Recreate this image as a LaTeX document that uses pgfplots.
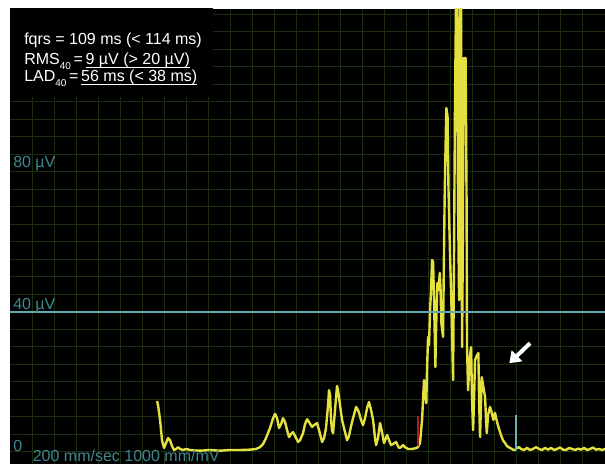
\documentclass[border=0pt]{standalone}
\usepackage{pgfplots}
\pgfplotsset{compat=1.18}
\usepackage{fontspec}
\setmainfont{Liberation Sans}
\usetikzlibrary{arrows.meta}

\definecolor{gridgreen}{RGB}{27,45,17}
\definecolor{trace}{RGB}{228,224,62}
\definecolor{tealline}{RGB}{100,170,178}
\definecolor{tealtext}{RGB}{62,136,142}
\definecolor{qrson}{RGB}{165,34,28}
\definecolor{qrsoff}{RGB}{100,180,180}

\newcommand{\sub}[1]{\raisebox{-3.5pt}{\fontsize{7.5}{8}\selectfont #1}}
\newcommand{\lab}{\fontsize{12}{14}\selectfont}
% underline sitting close to the baseline
\newcommand{\ul}[1]{\setbox0\hbox{#1}\rlap{\rule[-2.3pt]{\wd0}{0.7pt}}\box0}

\begin{document}
\begin{tikzpicture}
\useasboundingbox (0,0) rectangle (453.75pt,348pt);
\begin{axis}[
  at={(7.5pt,0pt)}, anchor=south west,
  width=446.25pt, height=341.25pt, scale only axis,
  xmin=-25, xmax=650.2, ymin=-3.5, ymax=126.5,
  xtick={0,25,...,625}, ytick={0,5,...,125},
  xticklabels={}, yticklabels={},
  major tick length=0pt,
  grid=major, grid style={gridgreen, line width=0.75pt},
  axis line style={draw=none},
  axis background/.style={fill=black},
]
% box behind the header text
\fill[black] (axis cs:-25,127) rectangle (axis cs:205.4,101.3);

% signal-averaged QRS, time in ms, amplitude in uV
\addplot[trace, line width=1.8pt, line join=round] coordinates {
(141.9,14.5)(143.0,13.3)(145.3,9.1)(147.5,3.3)(149.8,1.1)(152.1,2.5)(154.3,3.9)
(156.6,3.3)(158.9,1.6)(161.1,0.5)(163.4,0.8)(165.7,1.3)(168.0,0.8)(171.4,0.5)
(174.8,0.8)(179.3,0.5)(190.6,0.3)(202.0,0.5)(213.3,0.3)(224.7,0.5)(236.0,0.5)
(247.4,0.6)(254.2,0.8)(258.7,1.3)(262.1,2.2)(265.5,3.9)(270.1,6.8)(273.5,9.6)
(275.8,10.8)(278.0,9.6)(280.3,6.8)(282.6,7.9)(284.8,9.6)(287.1,8.5)(289.4,6.2)
(291.6,4.2)(293.9,5.1)(296.2,5.6)(298.5,4.5)(301.9,2.8)(304.1,3.3)(307.5,5.3)
(309.8,7.9)(312.1,9.3)(314.3,8.5)(317.7,7.1)(320.0,7.6)(323.4,8.2)(325.7,6.2)
(329.1,2.8)(331.4,3.9)(333.6,6.8)(335.9,13.3)(337.0,17.6)(338.2,16.2)(339.3,9.1)
(340.4,6.2)(341.6,5.3)(343.8,11.9)(346.1,18.8)(347.2,17.6)(349.5,13.3)(351.8,9.1)
(355.2,5.6)(357.5,3.3)(359.7,4.5)(362.0,7.3)(364.3,9.6)(367.7,12.8)(369.9,11.9)
(371.1,11.1)(373.3,9.1)(375.6,7.6)(377.9,9.6)(380.2,12.5)(382.4,14.2)(384.7,11.9)
(387.0,9.1)(389.2,3.9)(390.4,1.9)(392.6,3.9)(394.9,8.2)(397.2,5.6)(399.4,2.5)
(401.7,3.9)(402.9,4.8)(405.1,3.3)(407.4,1.9)(409.7,2.2)(413.1,2.8)(415.3,1.6)
(416.5,1.1)(418.7,1.3)(421.0,1.9)(423.3,1.3)(426.7,0.8)(431.2,0.8)(436.9,1.1)
(439.2,1.9)(440.3,2.5)(442.6,9.1)(444.8,20.5)(446.0,16.2)(447.4,13.9)(448.2,23.3)
(449.4,32.8)(450.5,30.5)(451.7,40.5)(452.8,46.2)(453.9,54.8)(455.1,54.2)(456.2,43.3)
(457.7,24.2)(458.5,34.8)(459.9,48.2)(461.3,46.2)(462.7,51.1)(463.6,46.2)(464.5,36.8)
(466.4,32.8)(467.5,57.6)(468.3,73.9)(469.2,86.2)(470.1,98.2)(471.5,95.9)(472.6,74.8)
(474.4,55.6)(475.8,43.3)(477.8,20.5)(478.9,57.6)(480.0,100.5)(481.2,130)(482.3,130)
(483.4,71.9)(484.6,43.3)(485.1,100.5)(485.7,130)(486.8,130)(487.4,71.9)(488.0,29.9)
(488.8,57.6)(489.7,112.5)(492.0,112.5)(493.1,71.9)(493.6,30.5)(494.8,17.6)(496.5,26.2)
(498.2,29.9)(499.3,14.8)(500.5,6.2)(501.6,14.8)(502.7,26.2)(505.0,27.6)(506.5,28.2)
(507.3,14.8)(508.4,4.2)(509.6,14.8)(510.3,21.3)(511.8,19.1)(514.1,15.6)(515.2,9.1)
(516.0,5.3)(517.5,10.5)(519.7,12.8)(521.7,11.1)(523.5,9.1)(525.4,11.1)(527.1,9.1)
(529.2,7.1)(531.1,5.6)(533.0,4.2)(534.8,3.1)(536.8,2.5)(539.0,1.6)(542.4,1.1)
(545.8,0.6)(548.1,0.5)(550.4,1.1)(552.6,1.3)(554.9,0.8)(558.3,0.5)(561.7,1.1)
(565.1,0.5)(568.5,0.8)(571.9,1.3)(575.3,0.8)(578.7,0.5)(582.2,1.1)(585.6,0.6)
(589.0,1.1)(592.4,0.5)(595.8,0.8)(599.2,1.2)(602.6,0.6)(606.0,0.5)(609.4,1.1)
(612.8,0.8)(616.2,0.5)(619.6,0.9)(623.0,0.6)(626.4,1.1)(629.8,0.5)(633.2,0.8)
(636.6,1.2)(640.0,0.6)(643.4,0.8)(646.9,0.5)(650.2,0.8)
};

% QRS onset and offset markers
\addplot[qrson, line width=1.5pt] coordinates {(438.4,1.6)(438.4,10.2)};
\addplot[qrsoff, line width=1.5pt] coordinates {(548.7,0.5)(548.7,10.5)};

% 40 uV threshold
\addplot[tealline, line width=1.5pt] coordinates {(-25,40)(650.2,40)};

\draw[white, line width=3pt, -{Triangle[length=8pt,width=11pt]}]
  (axis cs:565.1,31.0) -- (axis cs:541.6,25.3);

\node[tealtext, font=\lab, anchor=base west, inner sep=0pt] at (axis cs:-21.6,81.3) {80 µV};
\node[tealtext, font=\lab, anchor=base west, inner sep=0pt] at (axis cs:-21.6,40.6) {40 µV};
\node[tealtext, font=\lab, anchor=base west, inner sep=0pt] at (axis cs:-21.6,0.2) {0};
\node[tealtext, font=\lab, anchor=base west, inner sep=0pt] at (axis cs:0.6,-2.8) {200 mm/sec 1000 mm/mV};

\node[white, font=\lab, anchor=base west, inner sep=0pt] at (axis cs:-9.1,116.4) {fqrs = 109 ms (< 114 ms)};
\node[white, font=\lab, anchor=base west, inner sep=0pt] at (axis cs:-9.1,110.5) {RMS\sub{40}\,=\,\ul{9 µV (> 20 µV)}};
\node[white, font=\lab, anchor=base west, inner sep=0pt] at (axis cs:-9.1,105.8) {LAD\sub{40}\,=\,\ul{56 ms (< 38 ms)}};
\end{axis}
\end{tikzpicture}
\end{document}
